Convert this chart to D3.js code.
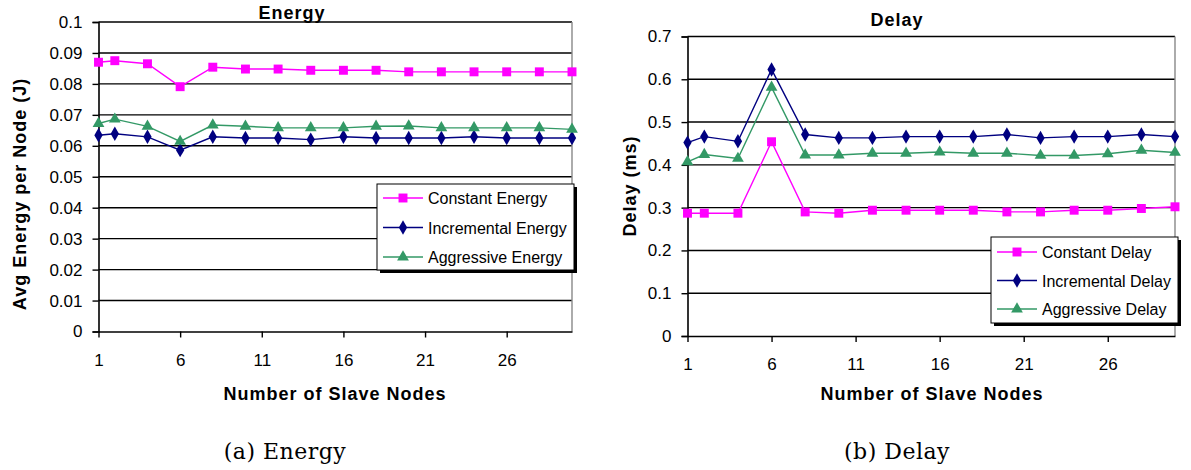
<!DOCTYPE html>
<html>
<head>
<meta charset="utf-8">
<script src="https://cdn.jsdelivr.net/npm/d3@7"></script>
<style>
  html, body { margin: 0; padding: 0; background: #fff; }
  svg text { font-family: "Liberation Sans", Arial, sans-serif; fill: #000; }
  .bold { font-weight: bold; letter-spacing: 1px; }
  .caption { font-family: "DejaVu Serif", "Liberation Serif", serif; }
</style>
</head>
<body>
<svg id="chart" width="1191" height="470"></svg>
<script>
// data
const nodes = [1, 2, 4, 6, 8, 10, 12, 14, 16, 18, 20, 22, 24, 26, 28, 30];
const xTicks = [1, 6, 11, 16, 21, 26];

const constantEnergy    = [0.0870, 0.0875, 0.0865, 0.0791, 0.0854, 0.0848, 0.0848, 0.0844, 0.0844, 0.0844, 0.0839, 0.0839, 0.0839, 0.0839, 0.0839, 0.0839];
const incrementalEnergy = [0.0634, 0.0639, 0.0629, 0.0586, 0.0629, 0.0625, 0.0625, 0.0620, 0.0629, 0.0625, 0.0625, 0.0625, 0.0629, 0.0625, 0.0625, 0.0625];
const aggressiveEnergy  = [0.0672, 0.0686, 0.0663, 0.0614, 0.0667, 0.0663, 0.0658, 0.0658, 0.0658, 0.0663, 0.0664, 0.0658, 0.0658, 0.0658, 0.0658, 0.0653];
const energyTicks = [0, 0.01, 0.02, 0.03, 0.04, 0.05, 0.06, 0.07, 0.08, 0.09, 0.1];

const constantDelay    = [0.287, 0.287, 0.287, 0.454, 0.290, 0.287, 0.294, 0.294, 0.294, 0.294, 0.290, 0.290, 0.294, 0.294, 0.298, 0.302];
const incrementalDelay = [0.452, 0.466, 0.455, 0.623, 0.471, 0.463, 0.463, 0.466, 0.466, 0.466, 0.471, 0.463, 0.466, 0.466, 0.471, 0.466];
const aggressiveDelay  = [0.407, 0.424, 0.415, 0.581, 0.423, 0.423, 0.427, 0.427, 0.430, 0.427, 0.427, 0.422, 0.422, 0.426, 0.434, 0.429];
const delayTicks = [0, 0.1, 0.2, 0.3, 0.4, 0.5, 0.6, 0.7];

const styles = {
  constant:    { color: '#ff00ff', symbol: d3.symbolSquare,   size: 80 },
  incremental: { color: '#000080', symbol: d3.symbolDiamond,  size: 60 },
  aggressive:  { color: '#339966', symbol: d3.symbolTriangle, size: 60 }
};

const svg = d3.select('#chart');
svg.append('rect').attr('width', 1191).attr('height', 470).attr('fill', '#fff');

function drawPanel(p) {
  const x = d3.scaleLinear().domain([1, 30]).range([p.left, p.right]);
  const y = d3.scaleLinear().domain([0, p.yMax]).range([p.bottom, p.top]);
  const g = svg.append('g');

  // gridlines
  g.selectAll('.grid').data(p.yTicks.filter(d => d > 0)).enter()
    .append('line')
    .attr('x1', p.left).attr('x2', p.right)
    .attr('y1', d => y(d)).attr('y2', d => y(d))
    .attr('stroke', '#000').attr('stroke-width', 1.4);

  // right border of plot area
  g.append('line')
    .attr('x1', p.right).attr('x2', p.right)
    .attr('y1', p.top).attr('y2', p.bottom)
    .attr('stroke', '#888').attr('stroke-width', 1.4);

  // axes
  const yAxis = g.append('g')
    .attr('transform', `translate(${p.left},0)`)
    .call(d3.axisLeft(y).tickValues(p.yTicks).tickSize(6).tickPadding(10).tickFormat(d => d3.format('')(+d.toFixed(2))));
  const xAxis = g.append('g')
    .attr('transform', `translate(0,${p.bottom})`)
    .call(d3.axisBottom(x).tickValues(xTicks).tickSize(6).tickPadding(16).tickSizeOuter(0));
  [yAxis, xAxis].forEach(a => {
    a.select('.domain').attr('stroke', '#000').attr('stroke-width', 1.6);
    a.selectAll('.tick line').attr('stroke', '#000').attr('stroke-width', 1.4);
    a.selectAll('.tick text').style('font-size', '17px')
      .style('font-family', '"Liberation Sans", Arial, sans-serif').attr('fill', '#000');
  });

  // series
  const line = d3.line().x((d, i) => x(nodes[i])).y(d => y(d));
  p.series.forEach(s => {
    const st = styles[s.key];
    g.append('path').datum(s.values)
      .attr('d', line).attr('fill', 'none')
      .attr('stroke', st.color).attr('stroke-width', 1.4);
    g.selectAll(null).data(s.values).enter()
      .append('path')
      .attr('d', d3.symbol().type(st.symbol).size(st.size))
      .attr('transform', (d, i) => `translate(${x(nodes[i])},${y(d)})`)
      .attr('fill', st.color);
  });

  // titles
  g.append('text').attr('class', 'bold')
    .attr('x', p.titleX).attr('y', p.titleY)
    .attr('text-anchor', 'middle').style('font-size', '18px')
    .text(p.title);
  g.append('text').attr('class', 'bold')
    .attr('transform', `translate(${p.yLabelX},${p.yLabelY}) rotate(-90)`)
    .attr('text-anchor', 'middle').style('font-size', '18px')
    .text(p.yLabel);
  g.append('text').attr('class', 'bold')
    .attr('x', p.xLabelX).attr('y', 400)
    .attr('text-anchor', 'middle').style('font-size', '18px')
    .text('Number of Slave Nodes');

  // legend
  const L = p.legend;
  const leg = g.append('g').attr('transform', `translate(${L.x},${L.y})`);
  leg.append('rect').attr('x', 3).attr('y', 3).attr('width', L.w).attr('height', L.h).attr('fill', '#000');
  leg.append('rect').attr('width', L.w).attr('height', L.h)
    .attr('fill', '#fff').attr('stroke', '#000').attr('stroke-width', 1);
  p.series.forEach((s, i) => {
    const st = styles[s.key];
    const cy = L.row0 + i * L.rowGap;
    leg.append('line').attr('x1', 6).attr('x2', 46).attr('y1', cy).attr('y2', cy)
      .attr('stroke', st.color).attr('stroke-width', 1.4);
    leg.append('path').attr('d', d3.symbol().type(st.symbol).size(st.size))
      .attr('transform', `translate(26,${cy})`).attr('fill', st.color);
    leg.append('text').attr('x', 51).attr('y', cy + 6)
      .style('font-size', '16px').text(s.name);
  });

  // caption
  svg.append('text').attr('class', 'caption')
    .attr('x', p.captionX).attr('y', 459)
    .attr('text-anchor', 'middle').style('font-size', '22px')
    .style('letter-spacing', '0.5px')
    .text(p.caption);
}

drawPanel({
  left: 98.5, right: 572, top: 22, bottom: 331.5, yMax: 0.1, yTicks: energyTicks,
  title: 'Energy', titleX: 292, titleY: 19,
  yLabel: 'Avg Energy per Node (J)', yLabelX: 26, yLabelY: 194,
  xLabelX: 335,
  legend: { x: 377, y: 184, w: 197, h: 86, row0: 14, rowGap: 29.5 },
  caption: '(a) Energy', captionX: 285,
  series: [
    { key: 'constant', name: 'Constant Energy', values: constantEnergy },
    { key: 'incremental', name: 'Incremental Energy', values: incrementalEnergy },
    { key: 'aggressive', name: 'Aggressive Energy', values: aggressiveEnergy }
  ]
});

drawPanel({
  left: 687.5, right: 1175, top: 36.5, bottom: 336, yMax: 0.7, yTicks: delayTicks,
  title: 'Delay', titleX: 897, titleY: 26,
  yLabel: 'Delay (ms)', yLabelX: 636, yLabelY: 186,
  xLabelX: 932,
  legend: { x: 991, y: 237, w: 187, h: 86, row0: 15, rowGap: 28.5 },
  caption: '(b) Delay', captionX: 897,
  series: [
    { key: 'constant', name: 'Constant Delay', values: constantDelay },
    { key: 'incremental', name: 'Incremental Delay', values: incrementalDelay },
    { key: 'aggressive', name: 'Aggressive Delay', values: aggressiveDelay }
  ]
});
</script>
</body>
</html>
